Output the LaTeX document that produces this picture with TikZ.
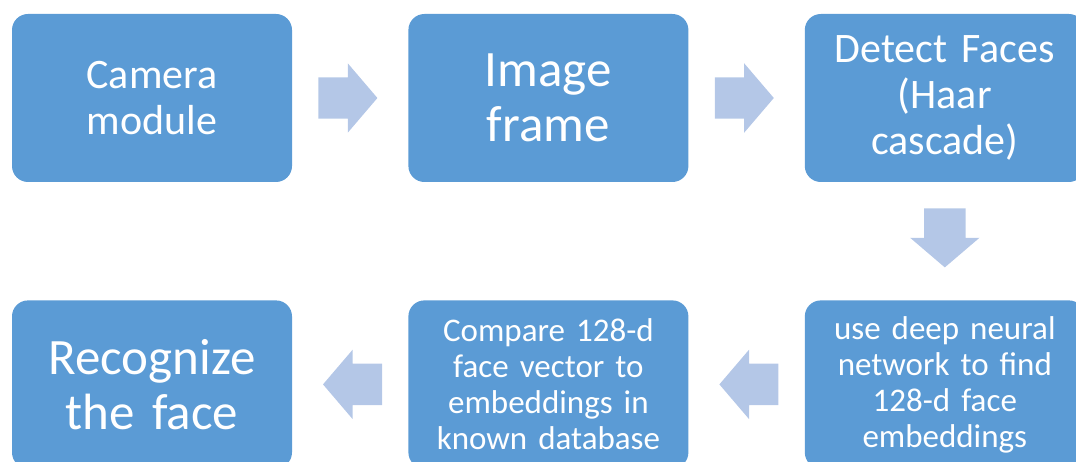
\documentclass[tikz,border=0pt]{standalone}
\usepackage{fontspec}
\setmainfont{Carlito}
\usetikzlibrary{positioning,shapes.arrows,calc}
\definecolor{stageblue}{HTML}{5B9BD5}
\definecolor{flowblue}{HTML}{B4C7E7}

\begin{document}
\begin{tikzpicture}
[x=1pt,y=1pt,
stage/.style={rectangle,rounded corners=16pt,fill=stageblue,text=white,
minimum width=280pt,minimum height=168pt,text width=270pt,align=center,inner sep=0pt},
big/.style={font=\fontsize{51}{55}\selectfont},
mid/.style={font=\fontsize{42}{46}\selectfont},
small/.style={font=\fontsize{33}{36}\selectfont},
flow/.style={single arrow,fill=flowblue,draw=none,inner xsep=0pt,inner ysep=20.5pt,
minimum height=59pt,minimum width=69pt,single arrow head extend=14pt,single arrow tip angle=99,anchor=tail},
node distance=118pt and 116pt]
\useasboundingbox (0,0) rectangle (1076,-462);
\clip (0,0) rectangle (1076,-462);
\node[stage,mid] (camera) at (152,-98) {Camera\\module};
\node[stage,big] (frame) [right=of camera] {Image\\frame};
\node[stage,mid] (detect) [right=of frame] {Detect Faces\\(Haar\\cascade)};
\node[stage,small] (embed) [below=of detect] {use deep neural\\network to find\\128-d face\\embeddings};
\node[stage,small] (compare) [left=of embed] {Compare 128-d\\face vector to\\embeddings in\\known database};
\node[stage,big] (recognize) [left=of compare] {Recognize\\the face};
% block arrows between the stages
\node[flow] (camera to frame) at ([xshift=26pt]camera.east) {};
\node[flow] (frame to detect) at ([xshift=26pt]frame.east) {};
\node[flow,rotate=-90] (detect to embed) at ([yshift=-26pt]detect.south) {};
\node[flow,rotate=180] (embed to compare) at ([xshift=-26pt]embed.west) {};
\node[flow,rotate=180] (compare to recognize) at ([xshift=-26pt]compare.west) {};
\end{tikzpicture}
\end{document}
